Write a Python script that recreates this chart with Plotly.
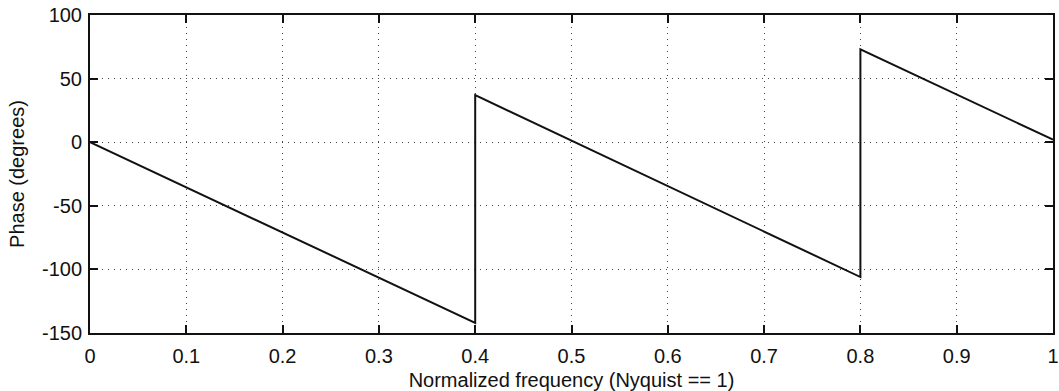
import plotly.graph_objects as go

freq = [0.0, 0.4, 0.4, 0.8, 0.8, 1.0]
phase = [0.0, -142.0, 37.0, -106.0, 73.0, 2.0]

x_ticks = [0, 0.1, 0.2, 0.3, 0.4, 0.5, 0.6, 0.7, 0.8, 0.9, 1]
x_labels = ["0", "0.1", "0.2", "0.3", "0.4", "0.5", "0.6", "0.7", "0.8", "0.9", "1"]
y_ticks = [-150, -100, -50, 0, 50, 100]
y_labels = ["-150", "-100", "-50", "0", "50", "100"]

font = "Liberation Sans, Arial, Helvetica, sans-serif"
FS = 20

fig = go.Figure()
fig.add_trace(go.Scatter(x=freq, y=phase, mode="lines",
                         line=dict(color="#111111", width=2), showlegend=False))

axis_common = dict(
    showline=True, linecolor="#111111", linewidth=2, mirror="ticks",
    ticks="inside", ticklen=8, tickwidth=2, tickcolor="#111111",
    showgrid=True, gridcolor="#444444", gridwidth=1, griddash="1px,5px",
    zeroline=False, ticklabeloverflow="allow",
    tickfont=dict(family=font, size=FS, color="#111111"),
)

fig.update_xaxes(range=[0, 1], tickvals=x_ticks, ticktext=x_labels,
                 title=dict(text="Normalized frequency (Nyquist == 1)",
                            font=dict(family=font, size=FS, color="#111111"),
                            standoff=7),
                 ticklabelstandoff=4,
                 **axis_common)
fig.update_yaxes(range=[-150, 100], tickvals=y_ticks, ticktext=y_labels,
                 title=dict(text="Phase (degrees)",
                            font=dict(family=font, size=FS, color="#111111"),
                            standoff=12),
                 ticklabelstandoff=2,
                 **axis_common)

fig.update_layout(
    width=1059, height=391,
    margin=dict(l=90, r=6, t=15, b=58, autoexpand=False),
    plot_bgcolor="white", paper_bgcolor="white",
    font=dict(family=font, size=FS, color="#111111"),
)
fig.update_xaxes(automargin=False)
fig.update_yaxes(automargin=False)

fig.write_html("out.html",
               config={"displayModeBar": False},
               post_script="document.body.style.margin='0';document.body.style.overflow='hidden';")
